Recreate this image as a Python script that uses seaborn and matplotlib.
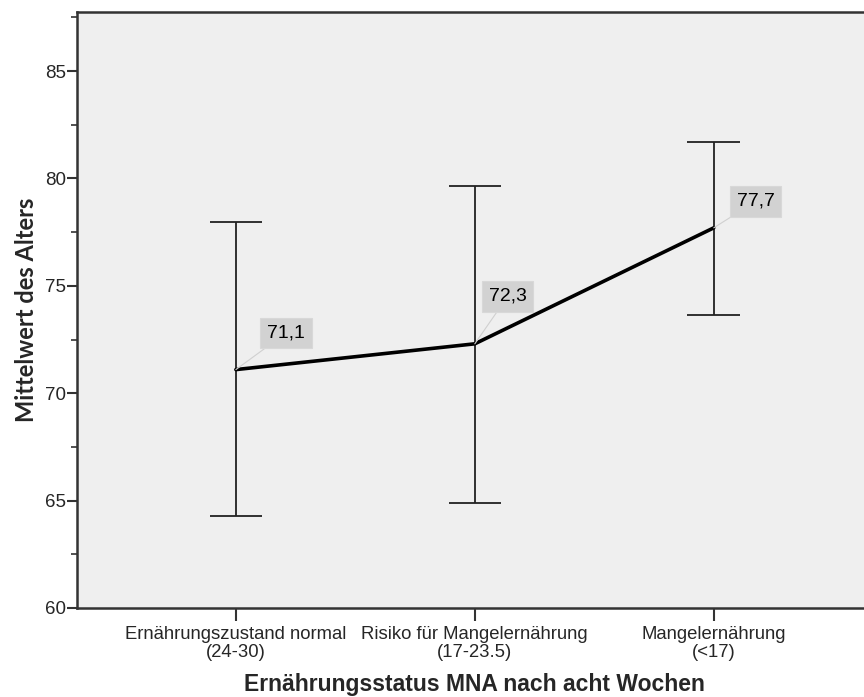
import matplotlib
matplotlib.use("Agg")
import matplotlib.pyplot as plt
from matplotlib.ticker import MultipleLocator
import numpy as np
import pandas as pd
import seaborn as sns

categories = ["Ernährungszustand normal\n(24-30)",
              "Risiko für Mangelernährung\n(17-23.5)",
              "Mangelernährung\n(<17)"]
means = [71.1, 72.3, 77.7]
ci_low = [64.3, 64.9, 73.65]
ci_high = [77.95, 79.65, 81.7]
value_labels = ["71,1", "72,3", "77,7"]

sns.set_theme(style="white")
plt.rcParams["font.family"] = ["Liberation Sans", "DejaVu Sans"]

df = pd.DataFrame({"pos": np.arange(len(categories)), "mean": means})

fig = plt.figure(figsize=(8.64, 6.97), dpi=100)
ax = fig.add_axes([0.0891, 0.1277, 0.9209, 0.8551])
ax.set_facecolor("#efefef")

# confidence intervals with caps
ax.vlines(df["pos"], ci_low, ci_high, color="#222222", lw=1.3, zorder=2)
cap = 0.11
ax.hlines(ci_low, df["pos"] - cap, df["pos"] + cap, color="#222222", lw=1.3, zorder=2)
ax.hlines(ci_high, df["pos"] - cap, df["pos"] + cap, color="#222222", lw=1.3, zorder=2)

sns.lineplot(data=df, x="pos", y="mean", color="black", lw=2.6, ax=ax, zorder=3)

# value labels with leader lines
offsets = [(31, 28), (14, 39), (23, 18)]
for x, m, lab, (dx, dy) in zip(df["pos"], means, value_labels, offsets):
    ax.annotate(lab, xy=(x, m), xytext=(dx, dy), textcoords="offset pixels",
                fontsize=14, color="black", ha="left", va="bottom",
                bbox=dict(boxstyle="square,pad=0.35", fc="#d2d2d2", ec="#d8d8d8", lw=0.8),
                arrowprops=dict(arrowstyle="-", color="#d0d0d0", lw=0.8,
                                shrinkA=0, shrinkB=0),
                zorder=4)

ax.set_xlim(-0.665, 2.665)
ax.set_ylim(60, 87.75)
ax.set_xticks(df["pos"])
ax.set_xticklabels(categories, fontsize=13.3, linespacing=1.05)
ax.yaxis.set_major_locator(MultipleLocator(5))
ax.yaxis.set_minor_locator(MultipleLocator(2.5))
ax.tick_params(axis="y", which="major", direction="out", length=7, width=1.5,
               color="#333333", labelsize=13.5, left=True, pad=1)
ax.tick_params(axis="y", which="minor", direction="out", length=4, width=1.2,
               color="#333333", left=True)
ax.tick_params(axis="x", which="major", direction="out", length=9, width=1.5,
               color="#333333", bottom=True, pad=4)

for side in ["left", "bottom", "top", "right"]:
    ax.spines[side].set_color("#333333")
    ax.spines[side].set_linewidth(1.8)

ax.set_xlabel("Ernährungsstatus MNA nach acht Wochen", fontsize=16.5,
              fontweight="bold", labelpad=9)
ax.set_ylabel("Mittelwert des Alters", fontsize=17, fontweight="bold",
              family=["Lato", "DejaVu Sans"], labelpad=5)

fig.savefig("out.png", dpi=100)
